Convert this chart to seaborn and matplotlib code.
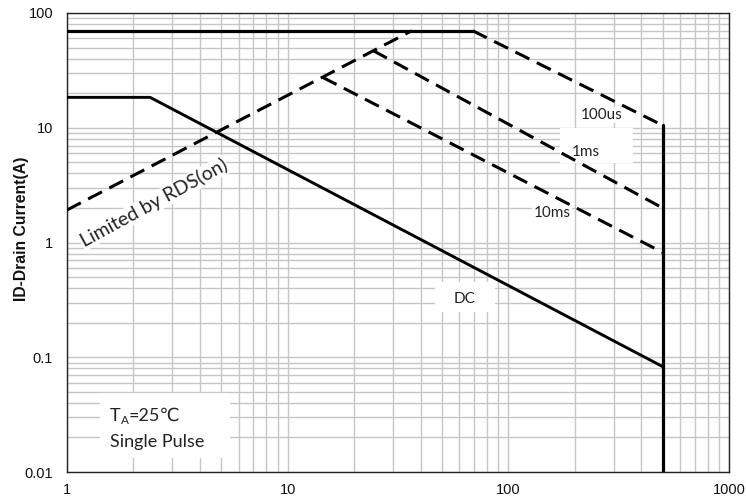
import matplotlib
matplotlib.use("Agg")
import matplotlib.pyplot as plt
from matplotlib.patches import Rectangle
from matplotlib.ticker import LogLocator, FixedLocator, FixedFormatter, NullFormatter
import seaborn as sns
import pandas as pd

# ---- data ----
v_top = [1, 69]
i_top = [70, 70]
v_100us = [69, 500]
i_100us = [70, 10.5]
v_vert = [500, 500]
i_vert = [10.5, 0.01]
v_rds = [1, 36.5]
i_rds = [1.92, 70]
v_1ms = [24.4, 500]
i_1ms = [47, 2.0]
v_10ms = [14.4, 500]
i_10ms = [27.5, 0.82]
v_dc = [1, 2.38, 500]
i_dc = [18.4, 18.4, 0.083]

x_ticks = [1, 10, 100, 1000]
x_ticklabels = ["1", "10", "100", "1000"]
y_ticks = [0.01, 0.1, 1, 10, 100]
y_ticklabels = ["0.01", "0.1", "1", "10", "100"]

sns.set_style("white")
plt.rcParams["font.family"] = ["Liberation Sans", "DejaVu Sans"]

fig = plt.figure(figsize=(7.46, 5.01), dpi=100)
ax = fig.add_axes([67 / 746, 1 - 472 / 501, 662 / 746, 459 / 501])
ax.set_xscale("log")
ax.set_yscale("log")
ax.set_xlim(1, 1000)
ax.set_ylim(0.01, 100)

grid_c = "#c6c6c6"
ax.xaxis.set_major_locator(FixedLocator(x_ticks))
ax.xaxis.set_major_formatter(FixedFormatter(x_ticklabels))
ax.yaxis.set_major_locator(FixedLocator(y_ticks))
ax.yaxis.set_major_formatter(FixedFormatter(y_ticklabels))
ax.xaxis.set_minor_locator(LogLocator(base=10, subs=range(2, 10), numticks=20))
ax.yaxis.set_minor_locator(LogLocator(base=10, subs=range(2, 10), numticks=20))
ax.xaxis.set_minor_formatter(NullFormatter())
ax.yaxis.set_minor_formatter(NullFormatter())
ax.grid(True, which="both", color=grid_c, linewidth=1.0)
ax.set_axisbelow(True)
ax.tick_params(which="both", length=0)
ax.tick_params(axis="x", pad=8, labelsize=10.5, labelcolor="#111111")
ax.tick_params(axis="y", pad=10, labelsize=10.5, labelcolor="#111111")
for s in ax.spines.values():
    s.set_color("#222222")
    s.set_linewidth(1.0)

solid_kw = dict(color="black", linewidth=2.3, sort=False, estimator=None, ax=ax, zorder=3)
dash_kw = dict(color="black", linewidth=2.2, sort=False, estimator=None, ax=ax, zorder=3,
               dashes=(5.1, 2.7))

def seg(v, i, kw):
    df = pd.DataFrame({"V": v, "I": i})
    line = sns.lineplot(data=df, x="V", y="I", **{k: val for k, val in kw.items() if k != "dashes"})
    if "dashes" in kw:
        line.lines[-1].set_dashes(kw["dashes"])
        line.lines[-1].set_dash_capstyle("butt")

seg(v_top, i_top, solid_kw)
seg(v_100us, i_100us, dash_kw)
seg(v_vert, i_vert, solid_kw)
seg(v_rds, i_rds, dash_kw)
seg(v_1ms, i_1ms, dash_kw)
seg(v_10ms, i_10ms, dash_kw)
seg(v_dc, i_dc, dict(solid_kw, linewidth=2.1))

ax.set_xlabel("")
ax.set_ylabel("ID-Drain Current(A)", fontsize=11.3, fontweight="bold", color="#111111")
ax.yaxis.set_label_coords(-0.058, 0.53)

# white boxes behind labels
for (x0, y0, w, h) in [(0.050, 0.0305, 0.196, 0.141),
                       (0.745, 0.673, 0.110, 0.076),
                       (0.556, 0.349, 0.091, 0.065)]:
    ax.add_patch(Rectangle((x0, y0), w, h, transform=ax.transAxes,
                           facecolor="white", edgecolor="none", zorder=1.5))

ann = ["Lato", "DejaVu Sans"]
small_box = dict(facecolor="white", edgecolor="none", pad=1.0)
ax.text(0.807, 0.778, "100us", transform=ax.transAxes, ha="center", va="center",
        fontsize=11, family=ann, color="#222222", bbox=small_box, zorder=2)
ax.text(0.784, 0.697, "1ms", transform=ax.transAxes, ha="center", va="center",
        fontsize=11, family=ann, color="#222222", zorder=2)
ax.text(0.733, 0.564, "10ms", transform=ax.transAxes, ha="center", va="center",
        fontsize=11, family=ann, color="#222222", bbox=small_box, zorder=2)
ax.text(0.601, 0.377, "DC", transform=ax.transAxes, ha="center", va="center",
        fontsize=11, family=ann, color="#222222", zorder=2)
ax.text(0.131, 0.586, "Limited by RDS(on)", transform=ax.transAxes, ha="center", va="center",
        rotation=28.5, rotation_mode="anchor", fontsize=14, family=ann, color="#222222",
        bbox=dict(facecolor="white", edgecolor="none", pad=0.5), zorder=2)

t1 = ax.text(0.065, 0.111, "T", transform=ax.transAxes, ha="left", va="baseline",
             fontsize=13, family=ann, color="#222222", zorder=2)
t2 = ax.annotate("A", xy=(1, 0), xycoords=t1, xytext=(0, -1.5), textcoords="offset points",
                 ha="left", va="bottom", fontsize=8.5, family=ann, color="#222222", zorder=2)
ax.annotate("=25\u2103", xy=(1, 0), xycoords=(t2, t1), ha="left", va="bottom",
            fontsize=13, family=ann, color="#222222", zorder=2)
ax.text(0.065, 0.0545, "Single Pulse", transform=ax.transAxes, ha="left", va="baseline",
        fontsize=13, family=ann, color="#222222", zorder=2)

fig.savefig("out.png", dpi=100)
